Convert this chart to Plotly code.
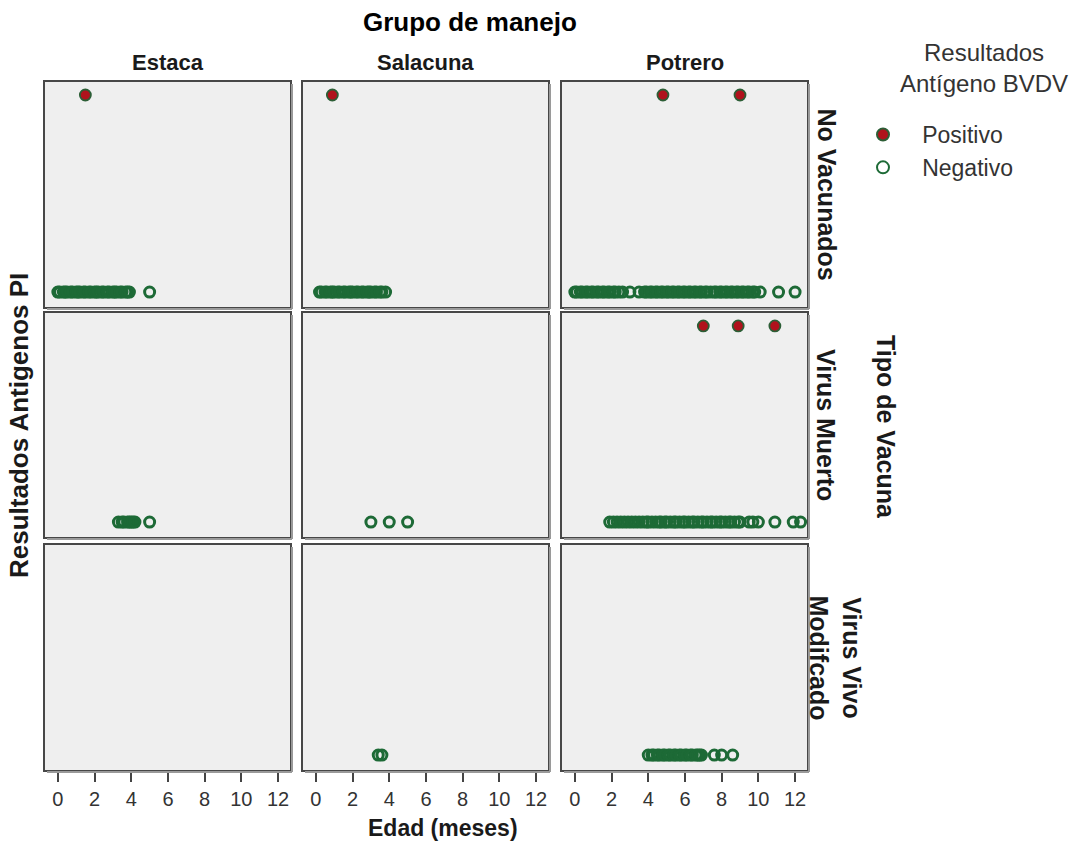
import plotly.graph_objects as go

# ---------------- data (edad en meses) ----------------
groups = ["Estaca", "Salacuna", "Potrero"]
vaccines = ["No Vacunados", "Virus Muerto", "Virus Vivo<br>Modifcado"]
results = ["Positivo", "Negativo"]
result_y = {"Positivo": 1, "Negativo": 0}

tick_vals = [0, 2, 4, 6, 8, 10, 12]
tick_text = ["0", "2", "4", "6", "8", "10", "12"]

# No Vacunados
nv_estaca_pos = [1.5]
nv_estaca_neg = [0.0, 0.1, 0.3, 0.4, 0.5, 0.7, 0.8, 1.0, 1.1, 1.2, 1.4, 1.5, 1.7,
                 1.8, 2.0, 2.1, 2.2, 2.4, 2.5, 2.7, 2.8, 3.0, 3.1, 3.2, 3.4, 3.5,
                 3.7, 3.8, 3.9, 5.0]
nv_salacuna_pos = [0.9]
nv_salacuna_neg = [0.2, 0.3, 0.5, 0.6, 0.8, 0.9, 1.0, 1.2, 1.3, 1.5, 1.6, 1.8,
                   1.9, 2.0, 2.2, 2.3, 2.5, 2.6, 2.8, 2.9, 3.0, 3.2, 3.3, 3.5,
                   3.6, 3.8]
nv_potrero_pos = [4.8, 9.0]
nv_potrero_neg = [0.0, 0.1, 0.3, 0.4, 0.6, 0.7, 0.9, 1.0, 1.2, 1.3, 1.5, 1.6,
                  1.8, 1.9, 2.1, 2.2, 2.4, 2.6, 3.0, 3.5, 3.8, 3.9, 4.1, 4.2,
                  4.4, 4.5, 4.7, 4.8, 5.0, 5.1, 5.3, 5.4, 5.6, 5.7, 5.9, 6.0,
                  6.2, 6.3, 6.5, 6.6, 6.8, 6.9, 7.1, 7.2, 7.4, 7.6, 7.7, 7.9,
                  8.0, 8.2, 8.3, 8.5, 8.6, 8.8, 8.9, 9.1, 9.2, 9.4, 9.5, 9.7,
                  9.8, 10.1, 11.1, 12.0]

# Virus Muerto
vm_estaca_pos = []
vm_estaca_neg = [3.3, 3.5, 3.6, 3.8, 3.9, 4.0, 4.1, 4.2, 5.0]
vm_salacuna_pos = []
vm_salacuna_neg = [3.0, 4.0, 5.0]
vm_potrero_pos = [7.0, 8.9, 10.9]
vm_potrero_neg = [1.9, 2.1, 2.3, 2.5, 2.7, 2.9, 3.1, 3.3, 3.5, 3.7, 3.9, 4.0,
                  4.2, 4.4, 4.6, 4.7, 4.9, 5.0, 5.2, 5.4, 5.5, 5.7, 5.9, 6.0,
                  6.2, 6.4, 6.5, 6.7, 6.9, 7.0, 7.2, 7.4, 7.5, 7.7, 7.9, 8.0,
                  8.2, 8.4, 8.5, 8.7, 8.9, 9.0, 9.5, 9.7, 10.0, 10.9, 11.9, 12.3]

# Virus Vivo Modificado
vv_estaca_pos = []
vv_estaca_neg = []
vv_salacuna_pos = []
vv_salacuna_neg = [3.4, 3.6]
vv_potrero_pos = []
vv_potrero_neg = [4.0, 4.2, 4.3, 4.5, 4.6, 4.8, 4.9, 5.1, 5.2, 5.4, 5.5, 5.7,
                  5.8, 6.0, 6.1, 6.3, 6.4, 6.6, 6.7, 6.8, 6.9, 7.6, 8.0, 8.6]

panel_pos = [
    [nv_estaca_pos, nv_salacuna_pos, nv_potrero_pos],
    [vm_estaca_pos, vm_salacuna_pos, vm_potrero_pos],
    [vv_estaca_pos, vv_salacuna_pos, vv_potrero_pos],
]
panel_neg = [
    [nv_estaca_neg, nv_salacuna_neg, nv_potrero_neg],
    [vm_estaca_neg, vm_salacuna_neg, vm_potrero_neg],
    [vv_estaca_neg, vv_salacuna_neg, vv_potrero_neg],
]

# ---------------- layout geometry ----------------
W, H = 1074, 842
col_px = [(45, 290), (303, 548), (562, 807)]
row_px = [(82, 307), (313, 537), (545, 770)]


def px_x(p):
    return p / W


def px_y(p):
    return 1 - p / H


GREEN = "#1d6a36"
RED = "#b0121c"
BORDER = "#474747"
SANS = "Liberation Sans, Arial, sans-serif"
NB = "\u00a0"

fig = go.Figure()
layout = dict(
    width=W, height=H,
    margin=dict(l=0, r=0, t=0, b=0),
    paper_bgcolor="white",
    plot_bgcolor="#efefef",
    showlegend=True,
)

shapes = []
for r in range(3):
    for c in range(3):
        idx = r * 3 + c + 1
        xa = "x" if idx == 1 else f"x{idx}"
        ya = "y" if idx == 1 else f"y{idx}"
        xkey = "xaxis" if idx == 1 else f"xaxis{idx}"
        ykey = "yaxis" if idx == 1 else f"yaxis{idx}"
        x0, x1 = col_px[c]
        y0, y1 = row_px[r]
        bottom = (r == 2)
        layout[xkey] = dict(
            domain=[px_x(x0), px_x(x1)], anchor=ya,
            range=[-0.7, 12.65], showgrid=False, zeroline=False,
            showline=True, mirror=True, linecolor=BORDER, linewidth=2,
            tickmode="array", tickvals=tick_vals, ticktext=tick_text,
            ticks="outside" if bottom else "", ticklen=10, tickwidth=2,
            tickcolor="#444", showticklabels=bottom,
            tickfont=dict(family=SANS, size=20, color="#333"),
        )
        layout[ykey] = dict(
            domain=[px_y(y1), px_y(y0)], anchor=xa,
            range=[-0.076, 1.066], showgrid=False, zeroline=False,
            showline=True, mirror=True, linecolor=BORDER, linewidth=2,
            showticklabels=False, ticks="",
        )
        # soft drop shadow along bottom and right edges (outside the panel)
        shapes.append(dict(type="line", xref="paper", yref="paper",
                           x0=px_x(x0 + 2), x1=px_x(x1 + 2),
                           y0=px_y(y1 + 2), y1=px_y(y1 + 2),
                           line=dict(color="#9a9a9a", width=2)))
        shapes.append(dict(type="line", xref="paper", yref="paper",
                           x0=px_x(x1 + 2), x1=px_x(x1 + 2),
                           y0=px_y(y1 + 2), y1=px_y(y0 + 2),
                           line=dict(color="#9a9a9a", width=2)))

        neg = panel_neg[r][c]
        pos = panel_pos[r][c]
        fig.add_trace(go.Scatter(
            x=neg, y=[result_y["Negativo"]] * len(neg), mode="markers",
            xaxis=xa, yaxis=ya, name=NB * 3 + "Negativo", legendgroup="neg",
            showlegend=(idx == 1), legendrank=2,
            marker=dict(symbol="circle-open", size=10, color=GREEN,
                        line=dict(width=3, color=GREEN)),
            cliponaxis=False,
        ))
        fig.add_trace(go.Scatter(
            x=pos, y=[result_y["Positivo"]] * len(pos), mode="markers",
            xaxis=xa, yaxis=ya, name=NB * 3 + "Positivo", legendgroup="pos",
            showlegend=(idx == 1), legendrank=1,
            marker=dict(symbol="circle", size=11, color=RED,
                        line=dict(width=1.8, color="#2c5e36")),
            cliponaxis=False,
        ))

layout["shapes"] = shapes


def note(text, x, y, size, angle=0, color="#1a1a1a"):
    return dict(text=text, x=px_x(x), y=px_y(y), xref="paper", yref="paper",
                xanchor="center", yanchor="middle", showarrow=False,
                textangle=angle, align="center",
                font=dict(family=SANS, size=size, color=color))


ann = [note("<b>Grupo de manejo</b>", 470, 22, 26, color="black")]
for c, g in enumerate(groups):
    cx = (col_px[c][0] + col_px[c][1]) / 2
    ann.append(note(f"<b>{g}</b>", cx, 62, 22))
row_cx = [826, 826, 835]
for r, v in enumerate(vaccines):
    cy = (row_px[r][0] + row_px[r][1]) / 2
    ann.append(note(f"<b>{v}</b>", row_cx[r], cy, 25, angle=90))
ann.append(note("<b>Tipo de Vacuna</b>", 886, 427, 25, angle=90))
ann.append(note("<b>Resultados Antigenos PI</b>", 19, 426, 26, angle=-90))
ann.append(note("<b>Edad (meses)</b>", 443, 828, 23))
ann.append(note("Resultados<br>Antígeno BVDV", 984, 68, 24, color="#333"))
layout["annotations"] = ann

layout["legend"] = dict(
    x=px_x(863), y=px_y(113), xanchor="left", yanchor="top",
    bgcolor="rgba(0,0,0,0)", borderwidth=0,
    font=dict(family=SANS, size=23, color="#333"),
    itemsizing="constant", tracegroupgap=0,
)

fig.update_layout(**layout)
fig.write_html("out.html")
